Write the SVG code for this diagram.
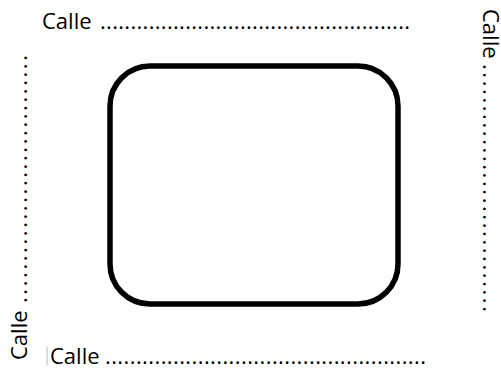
<svg xmlns="http://www.w3.org/2000/svg" width="501" height="368" viewBox="0 0 501 368">
<style>
.t{font-family:"Open Sans","Liberation Sans",sans-serif;font-size:22px;fill:#000}
</style>
<rect width="501" height="368" fill="#fff"/>
<g id="block">
<rect x="110" y="66" width="288" height="238" rx="40" ry="40" fill="none" stroke="#000" stroke-width="5.5"/>
</g>
<g id="labels">
<g id="street-top">
<text class="t" x="42" y="29">Calle</text>
<text class="t" x="100" y="29" textLength="310" lengthAdjust="spacing">...................................................</text>
</g>
<g id="street-bottom">
<line x1="47" y1="347" x2="47" y2="365" stroke="#bbb" stroke-width="1"/>
<text class="t" x="50" y="364">Calle</text>
<text class="t" x="105" y="364" textLength="321" lengthAdjust="spacing">....................................................</text>
</g>
<g id="street-left" transform="rotate(-90 27 360)">
<text class="t" x="27" y="360">Calle</text>
<text class="t" x="84" y="360" textLength="248" lengthAdjust="spacing">..............................</text>
</g>
<g id="street-right" transform="rotate(90 483 9)">
<text class="t" x="483" y="9">Calle</text>
<text class="t" x="538" y="9" textLength="248" lengthAdjust="spacing">..............................</text>
</g>
</g>
</svg>
